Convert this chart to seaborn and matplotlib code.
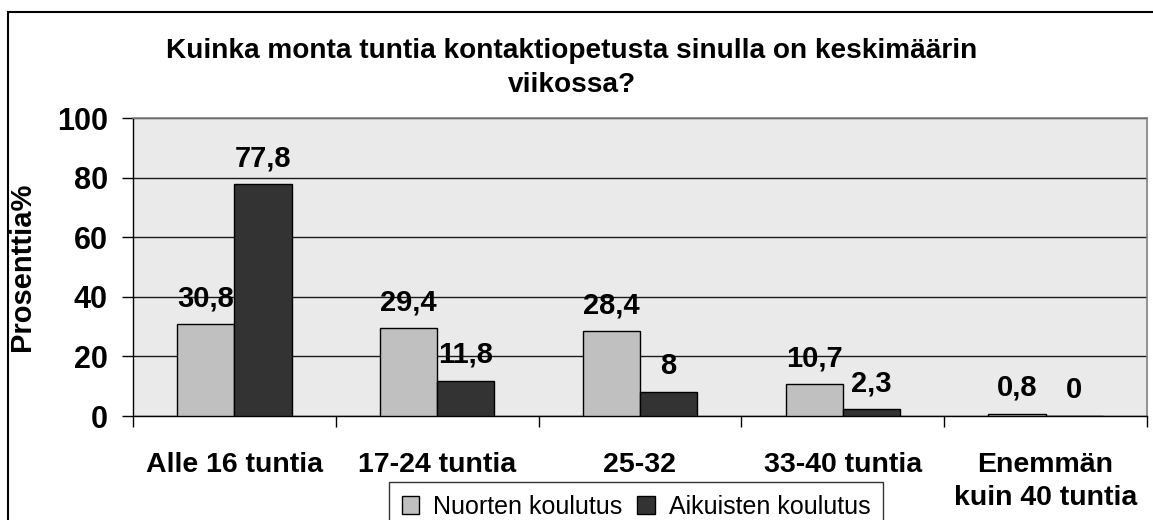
import matplotlib
matplotlib.use('Agg')
import matplotlib.pyplot as plt
import seaborn as sns
import pandas as pd
from matplotlib.patches import Rectangle
from matplotlib.ticker import FixedLocator

# ---- data ----
categories = ["Alle 16 tuntia", "17-24 tuntia", "25-32", "33-40 tuntia", "Enemmän\nkuin 40 tuntia"]
series_names = ["Nuorten koulutus", "Aikuisten koulutus"]
nuorten = [30.8, 29.4, 28.4, 10.7, 0.8]
aikuisten = [77.8, 11.8, 8.0, 2.3, 0.0]
yticks = [0, 20, 40, 60, 80, 100]
title_lines = ["Kuinka monta tuntia kontaktiopetusta sinulla on keskimäärin", "viikossa?"]
ylabel = "Prosenttia%"

sns.set_theme(style='white')
plt.rcParams['font.family'] = ['Liberation Sans', 'DejaVu Sans']
plt.rcParams['text.color'] = 'black'
plt.rcParams['axes.labelcolor'] = 'black'
plt.rcParams['xtick.color'] = 'black'
plt.rcParams['ytick.color'] = 'black'

W, H = 1153, 520
fig = plt.figure(figsize=(W / 100, H / 100), dpi=100)
fig.patch.set_facecolor('white')

ax = fig.add_axes([133 / W, 1 - 416 / H, (1147 - 133) / W, (416 - 118) / H])

df = pd.DataFrame({
    'Luokka': categories * 2,
    'Sarja': [series_names[0]] * len(categories) + [series_names[1]] * len(categories),
    'Arvo': nuorten + aikuisten,
})

colors = ['#C0C0C0', '#333333']
sns.barplot(data=df, x='Luokka', y='Arvo', hue='Sarja', order=categories,
            hue_order=series_names, palette=colors, width=0.565, gap=0,
            edgecolor='black', linewidth=1.0, saturation=1, ax=ax, zorder=3)

ax.set_facecolor('#EAEAEA')
ax.set_ylim(0, 100)
ax.set_xlim(-0.5, len(categories) - 0.5)
ax.set_yticks(yticks)
ax.set_yticklabels([str(v) for v in yticks], fontsize=22, fontweight='bold', color='black')
ax.yaxis.grid(True, color='#1a1a1a', linewidth=1.0, zorder=0)
ax.set_axisbelow(True)
ax.tick_params(axis='y', direction='out', length=8, width=1, color='black', pad=10, left=True)

ax.set_xticks(range(len(categories)))
ax.set_xticklabels(categories, fontsize=20.5, fontweight='bold', linespacing=1.35, color='black')
ax.tick_params(axis='x', which='major', length=0, pad=26)
ax.xaxis.set_minor_locator(FixedLocator([i - 0.5 for i in range(len(categories) + 1)]))
ax.tick_params(axis='x', which='minor', direction='out', length=8, width=1, color='black', bottom=True)

ax.set_xlabel('')
ax.set_ylabel(ylabel, fontsize=21, fontweight='bold', color='black')
ax.yaxis.set_label_coords(-(133 - 36) / (1147 - 133), 0.5)

for side in ['top', 'right']:
    ax.spines[side].set_color('#808080')
    ax.spines[side].set_linewidth(1.2)
for side in ['left', 'bottom']:
    ax.spines[side].set_color('black')
    ax.spines[side].set_linewidth(1.0)


def fmt(v):
    s = ('%.1f' % v).rstrip('0').rstrip('.')
    return s.replace('.', ',')


for cont, vals in zip(ax.containers, [nuorten, aikuisten]):
    for bar, v in zip(cont, vals):
        ax.annotate(fmt(v), (bar.get_x() + bar.get_width() / 2, v),
                    xytext=(0, 13), textcoords='offset points', color='black',
                    ha='center', va='baseline', fontsize=21, fontweight='bold', zorder=5)

handles, labels = ax.get_legend_handles_labels()
if ax.get_legend() is not None:
    ax.get_legend().remove()
leg = fig.legend(handles, labels, loc='upper center', bbox_to_anchor=(636 / W, 1 - 482 / H),
                 ncol=2, fontsize=18, frameon=True, fancybox=False, edgecolor='black',
                 handlelength=0.7, handleheight=0.7, handletextpad=0.55, columnspacing=0.6,
                 borderpad=0.5, borderaxespad=0, labelcolor='black')
leg.get_frame().set_linewidth(1.0)

# title
fig.text(572 / W, 1 - 58 / H, title_lines[0], ha='center', va='baseline',
         fontsize=20.2, fontweight='bold', color='black')
fig.text(572 / W, 1 - 92 / H, title_lines[1], ha='center', va='baseline',
         fontsize=20.2, fontweight='bold', color='black')

# outer chart frame (top and left visible)
fig.patches.append(Rectangle((8 / W, -0.1), 1.2, 1.1 - 12 / H, transform=fig.transFigure,
                             fill=False, edgecolor='black', linewidth=1.5))

fig.savefig('out.png', dpi=100)
